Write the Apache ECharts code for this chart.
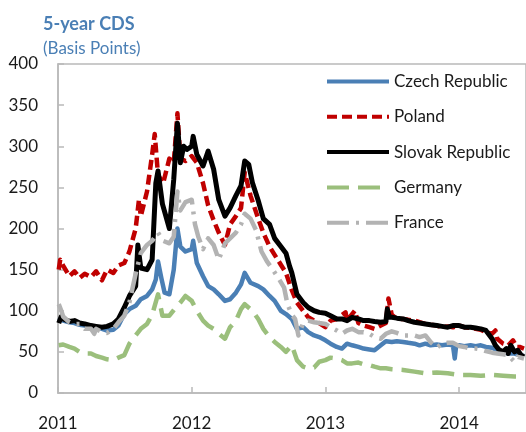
<!DOCTYPE html>
<html>
<head>
<meta charset="utf-8">
<script src="https://cdn.jsdelivr.net/npm/echarts@6/dist/echarts.min.js"></script>
<style>
  html, body { margin: 0; padding: 0; background: #fff; }
  #main { width: 526px; height: 432px; }
</style>
</head>
<body>
<div id="main"></div>
<script>
  // 5-year CDS, basis points — [date, value]
  const czech = [
    ['2011-01-03', 92], ['2011-01-15', 88], ['2011-02-01', 86], ['2011-02-15', 85], ['2011-03-01', 83], ['2011-03-15', 82],
    ['2011-04-01', 80], ['2011-04-15', 80], ['2011-05-01', 78], ['2011-05-15', 76], ['2011-06-01', 77], ['2011-06-15', 82],
    ['2011-07-01', 96], ['2011-07-15', 102], ['2011-08-01', 106], ['2011-08-15', 114], ['2011-09-01', 118], ['2011-09-15', 126],
    ['2011-09-25', 138], ['2011-10-01', 160], ['2011-10-10', 140], ['2011-10-19', 122], ['2011-11-01', 120], ['2011-11-13', 150],
    ['2011-11-23', 200], ['2011-12-01', 178], ['2011-12-15', 172], ['2012-01-01', 175], ['2012-01-05', 185], ['2012-01-15', 158],
    ['2012-02-01', 142], ['2012-02-15', 130], ['2012-03-01', 126], ['2012-03-15', 120], ['2012-04-01', 112], ['2012-04-15', 114],
    ['2012-05-01', 122], ['2012-05-15', 132], ['2012-05-25', 146], ['2012-06-10', 134], ['2012-07-01', 130], ['2012-07-15', 126],
    ['2012-08-01', 118], ['2012-08-15', 112], ['2012-09-01', 100], ['2012-09-15', 96], ['2012-10-01', 90], ['2012-10-15', 78],
    ['2012-11-01', 80], ['2012-11-15', 74], ['2012-12-01', 70], ['2012-12-15', 68], ['2013-01-01', 64], ['2013-01-15', 60],
    ['2013-02-01', 56], ['2013-02-15', 54], ['2013-03-01', 60], ['2013-03-15', 58], ['2013-04-01', 56], ['2013-04-15', 54],
    ['2013-05-01', 53], ['2013-05-15', 52], ['2013-06-01', 58], ['2013-06-15', 63], ['2013-07-01', 62], ['2013-07-15', 63],
    ['2013-08-01', 62], ['2013-08-15', 61], ['2013-09-01', 60], ['2013-09-15', 58], ['2013-10-01', 60], ['2013-10-15', 58],
    ['2013-11-01', 59], ['2013-11-15', 58], ['2013-12-01', 59], ['2013-12-15', 58], ['2013-12-20', 42], ['2013-12-24', 58],
    ['2014-01-01', 58], ['2014-01-15', 57], ['2014-02-01', 58], ['2014-02-15', 57], ['2014-03-01', 58], ['2014-03-15', 56],
    ['2014-04-01', 55], ['2014-04-15', 52], ['2014-05-01', 50], ['2014-05-15', 48], ['2014-06-01', 48], ['2014-06-15', 46],
    ['2014-06-27', 45]
  ]
  const poland = [
    ['2011-01-03', 150], ['2011-01-07', 162], ['2011-01-15', 155], ['2011-02-01', 142], ['2011-02-15', 148], ['2011-03-01', 140],
    ['2011-03-15', 145], ['2011-04-01', 141], ['2011-04-15', 148], ['2011-05-01', 137], ['2011-05-15', 150], ['2011-06-01', 146],
    ['2011-06-15', 155], ['2011-07-01', 158], ['2011-07-15', 172], ['2011-08-01', 200], ['2011-08-10', 235], ['2011-08-15', 215],
    ['2011-09-01', 245], ['2011-09-15', 290], ['2011-09-22', 315], ['2011-10-01', 265], ['2011-10-15', 255], ['2011-11-01', 285],
    ['2011-11-13', 280], ['2011-11-23', 340], ['2011-12-01', 285], ['2011-12-15', 282], ['2012-01-01', 288], ['2012-01-15', 280],
    ['2012-02-01', 255], ['2012-02-15', 228], ['2012-03-01', 210], ['2012-03-15', 195], ['2012-04-01', 180], ['2012-04-15', 205],
    ['2012-05-01', 215], ['2012-05-15', 225], ['2012-05-25', 268], ['2012-06-10', 240], ['2012-07-01', 212], ['2012-07-15', 195],
    ['2012-08-01', 178], ['2012-08-15', 168], ['2012-09-01', 156], ['2012-09-15', 146], ['2012-10-01', 125], ['2012-10-15', 110],
    ['2012-11-01', 100], ['2012-11-15', 92], ['2012-12-01', 88], ['2012-12-15', 85], ['2013-01-01', 80], ['2013-01-15', 88],
    ['2013-02-01', 90], ['2013-02-25', 98], ['2013-03-01', 88], ['2013-03-22', 100], ['2013-04-01', 85], ['2013-04-15', 82],
    ['2013-05-01', 80], ['2013-05-15', 78], ['2013-06-01', 82], ['2013-06-15', 85], ['2013-06-22', 115], ['2013-07-01', 95],
    ['2013-07-15', 90], ['2013-08-01', 90], ['2013-08-15', 89], ['2013-09-01', 88], ['2013-09-15', 86], ['2013-10-01', 84],
    ['2013-10-15', 83], ['2013-11-01', 82], ['2013-11-15', 80], ['2013-12-01', 81], ['2013-12-15', 80], ['2014-01-01', 82],
    ['2014-01-15', 80], ['2014-02-01', 79], ['2014-02-15', 78], ['2014-03-01', 77], ['2014-03-15', 74], ['2014-04-01', 72],
    ['2014-04-10', 76], ['2014-04-15', 66], ['2014-05-01', 60], ['2014-05-15', 58], ['2014-05-28', 64], ['2014-06-07', 56],
    ['2014-06-15', 56], ['2014-06-27', 54]
  ]
  const slovak = [
    ['2011-01-03', 85], ['2011-01-10', 93], ['2011-01-15', 90], ['2011-02-01', 87], ['2011-02-15', 88], ['2011-03-01', 85],
    ['2011-03-15', 84], ['2011-04-01', 82], ['2011-04-15', 81], ['2011-05-01', 80], ['2011-05-15', 81], ['2011-06-01', 84],
    ['2011-06-15', 90], ['2011-07-01', 104], ['2011-07-15', 118], ['2011-08-01', 130], ['2011-08-07', 180], ['2011-08-15', 152],
    ['2011-09-01', 150], ['2011-09-15', 162], ['2011-09-25', 255], ['2011-10-01', 270], ['2011-10-13', 230], ['2011-11-01', 200],
    ['2011-11-13', 260], ['2011-11-23', 328], ['2011-12-01', 280], ['2011-12-10', 300], ['2011-12-19', 296], ['2012-01-01', 300],
    ['2012-01-05', 312], ['2012-01-15', 290], ['2012-02-01', 276], ['2012-02-15', 294], ['2012-03-01', 272], ['2012-03-15', 235],
    ['2012-04-01', 215], ['2012-04-15', 225], ['2012-05-01', 240], ['2012-05-15', 252], ['2012-05-25', 282], ['2012-06-05', 278],
    ['2012-06-15', 256], ['2012-07-01', 234], ['2012-07-15', 212], ['2012-08-01', 205], ['2012-08-15', 188], ['2012-09-01', 178],
    ['2012-09-15', 170], ['2012-09-25', 154], ['2012-10-01', 146], ['2012-10-15', 120], ['2012-11-01', 110], ['2012-11-15', 104],
    ['2012-12-01', 100], ['2012-12-15', 98], ['2013-01-01', 97], ['2013-01-15', 94], ['2013-02-01', 90], ['2013-02-15', 90],
    ['2013-03-01', 88], ['2013-03-15', 92], ['2013-04-01', 90], ['2013-04-15', 88], ['2013-05-01', 88], ['2013-05-15', 87],
    ['2013-06-01', 86], ['2013-06-15', 87], ['2013-06-19', 102], ['2013-06-25', 92], ['2013-07-01', 92], ['2013-07-15', 91],
    ['2013-08-01', 90], ['2013-08-15', 88], ['2013-09-01', 86], ['2013-09-15', 85], ['2013-10-01', 84], ['2013-10-15', 83],
    ['2013-11-01', 82], ['2013-11-15', 81], ['2013-12-01', 80], ['2013-12-15', 82], ['2014-01-01', 82], ['2014-01-15', 80],
    ['2014-02-01', 80], ['2014-02-15', 79], ['2014-03-01', 78], ['2014-03-15', 76], ['2014-04-01', 66], ['2014-04-10', 58],
    ['2014-04-19', 53], ['2014-05-01', 50], ['2014-05-10', 54], ['2014-05-15', 48], ['2014-05-22', 58], ['2014-06-01', 50],
    ['2014-06-10', 52], ['2014-06-19', 46], ['2014-06-27', 44]
  ]
  const germany = [
    ['2011-01-03', 58], ['2011-01-15', 59], ['2011-02-01', 56], ['2011-02-15', 54], ['2011-03-01', 50], ['2011-03-15', 48],
    ['2011-04-01', 48], ['2011-04-15', 45], ['2011-05-01', 43], ['2011-05-15', 41], ['2011-06-01', 40], ['2011-06-15', 43],
    ['2011-07-01', 46], ['2011-07-15', 60], ['2011-08-01', 70], ['2011-08-15', 78], ['2011-09-01', 84], ['2011-09-15', 95],
    ['2011-10-01', 120], ['2011-10-13', 94], ['2011-11-01', 94], ['2011-11-15', 102], ['2011-12-01', 110], ['2011-12-15', 118],
    ['2012-01-01', 112], ['2012-01-15', 100], ['2012-02-01', 88], ['2012-02-15', 82], ['2012-03-01', 78], ['2012-03-15', 72],
    ['2012-04-01', 66], ['2012-04-15', 80], ['2012-05-01', 88], ['2012-05-15', 102], ['2012-05-25', 108], ['2012-06-15', 100],
    ['2012-07-01', 90], ['2012-07-15', 78], ['2012-08-01', 68], ['2012-08-15', 62], ['2012-09-01', 56], ['2012-09-15', 50],
    ['2012-10-01', 58], ['2012-10-15', 40], ['2012-11-01', 32], ['2012-11-15', 30], ['2012-12-01', 31], ['2012-12-15', 38],
    ['2013-01-01', 40], ['2013-01-15', 43], ['2013-02-01', 42], ['2013-02-15', 40], ['2013-03-01', 36], ['2013-03-15', 36],
    ['2013-04-01', 37], ['2013-04-15', 35], ['2013-05-01', 34], ['2013-05-15', 32], ['2013-06-01', 30], ['2013-06-15', 30],
    ['2013-07-01', 29], ['2013-08-01', 28], ['2013-09-01', 26], ['2013-10-01', 24], ['2013-11-01', 25], ['2013-12-01', 24],
    ['2014-01-01', 22], ['2014-02-01', 22], ['2014-03-01', 21], ['2014-04-01', 22], ['2014-05-01', 21], ['2014-06-01', 20],
    ['2014-06-27', 20]
  ]
  const france = [
    ['2011-01-03', 108], ['2011-01-10', 100], ['2011-01-15', 93], ['2011-02-01', 86], ['2011-02-15', 84], ['2011-03-01', 84],
    ['2011-03-15', 78], ['2011-04-01', 78], ['2011-04-10', 72], ['2011-04-15', 78], ['2011-05-01', 74], ['2011-05-15', 73],
    ['2011-06-01', 78], ['2011-06-15', 86], ['2011-07-01', 94], ['2011-07-15', 110], ['2011-08-01', 145], ['2011-08-15', 170],
    ['2011-09-01', 180], ['2011-09-15', 185], ['2011-10-01', 195], ['2011-10-15', 185], ['2011-11-01', 182], ['2011-11-13', 190],
    ['2011-11-23', 245], ['2011-12-01', 222], ['2011-12-15', 232], ['2012-01-01', 235], ['2012-01-10', 205], ['2012-01-19', 190],
    ['2012-02-01', 175], ['2012-02-15', 188], ['2012-03-01', 180], ['2012-03-15', 162], ['2012-04-01', 182], ['2012-04-15', 188],
    ['2012-05-01', 195], ['2012-05-15', 205], ['2012-05-25', 218], ['2012-06-10', 212], ['2012-06-25', 198], ['2012-07-10', 172],
    ['2012-07-25', 160], ['2012-08-10', 150], ['2012-08-25', 140], ['2012-09-10', 128], ['2012-09-19', 108], ['2012-10-01', 95],
    ['2012-10-10', 90], ['2012-10-19', 70], ['2012-11-01', 85], ['2012-11-15', 88], ['2012-12-01', 86], ['2012-12-15', 85],
    ['2013-01-01', 84], ['2013-01-15', 80], ['2013-02-01', 76], ['2013-02-15', 72], ['2013-03-01', 76], ['2013-03-15', 78],
    ['2013-04-01', 74], ['2013-04-15', 74], ['2013-05-01', 72], ['2013-05-15', 68], ['2013-06-01', 66], ['2013-06-15', 72],
    ['2013-07-01', 75], ['2013-07-15', 73], ['2013-08-01', 70], ['2013-08-15', 70], ['2013-09-01', 70], ['2013-09-15', 68],
    ['2013-10-01', 70], ['2013-10-15', 62], ['2013-11-01', 55], ['2013-11-15', 60], ['2013-12-01', 61], ['2013-12-15', 61],
    ['2014-01-01', 57], ['2014-01-15', 56], ['2014-02-01', 54], ['2014-02-15', 54], ['2014-03-01', 53], ['2014-03-15', 51],
    ['2014-04-01', 49], ['2014-04-15', 48], ['2014-05-01', 47], ['2014-05-15', 46], ['2014-06-01', 38], ['2014-06-10', 44],
    ['2014-06-27', 42]
  ]
  const seriesNames = ['Czech Republic', 'Poland', 'Slovak Republic', 'Germany', 'France']
  const yearTicks = [2011, 2012, 2013, 2014]

  const font = 'Lato, "Open Sans", sans-serif'
  const titleColor = '#4a7fb5'
  const axisColor = '#b9b9b9'

  // date string -> decimal year for the value axis
  const toYear = (s) => {
    const d = new Date(s + 'T00:00:00Z')
    const y = d.getUTCFullYear()
    const start = Date.UTC(y, 0, 1)
    const end = Date.UTC(y + 1, 0, 1)
    return y + (d.getTime() - start) / (end - start)
  }
  const toPoints = (arr) => arr.map((p) => [toYear(p[0]), p[1]])

  const styles = [
    { color: '#4a7fb5', type: 'solid', width: 4.5 },
    { color: '#c00000', type: [10, 5], width: 4.5 },
    { color: '#000000', type: 'solid', width: 5 },
    { color: '#9bbf7c', type: [22, 9], width: 4.5 },
    { color: '#b3b3b3', type: [22, 7, 3, 7], width: 4.5 },
  ]
  const datasets = [czech, poland, slovak, germany, france]

  const chart = echarts.init(document.getElementById('main'), null, { renderer: 'canvas' })
  const option = {
    animation: false,
    backgroundColor: '#fff',
    textStyle: { fontFamily: font },
    title: {
      text: '5-year CDS',
      subtext: '(Basis Points)',
      left: 38,
      top: 10,
      itemGap: 7,
      textStyle: { fontFamily: font, fontSize: 18, fontWeight: 'bold', color: titleColor },
      subtextStyle: { fontFamily: font, fontSize: 17, color: titleColor },
    },
    legend: {
      orient: 'vertical',
      left: 320,
      top: 68,
      itemWidth: 62,
      itemHeight: 16,
      itemGap: 18.3,
      itemStyle: { color: 'rgba(0,0,0,0)', borderWidth: 0, opacity: 0 },
      lineStyle: { width: 4 },
      textStyle: { fontFamily: font, fontSize: 17, color: '#1a1a1a' },
      data: seriesNames,
    },
    grid: {
      left: 58,
      top: 64,
      right: -2,
      bottom: 38,
      show: true,
      borderColor: axisColor,
      borderWidth: 1.5,
    },
    xAxis: {
      type: 'value',
      min: yearTicks[0],
      max: 2014.5,
      interval: 1,
      axisLine: { lineStyle: { color: axisColor, width: 1.5 } },
      axisTick: { inside: true, length: 6, lineStyle: { color: axisColor, width: 1.5 } },
      splitLine: { show: false },
      axisLabel: {
        margin: 22,
        fontSize: 17,
        color: '#1a1a1a',
        showMaxLabel: false,
        formatter: (v) => (yearTicks.includes(Math.round(v * 1000) / 1000) ? String(Math.round(v)) : ''),
      },
    },
    yAxis: {
      type: 'value',
      min: 0,
      max: 400,
      interval: 50,
      axisLine: { show: true, lineStyle: { color: axisColor, width: 1.5 } },
      axisTick: { show: true, inside: true, length: 6, lineStyle: { color: axisColor, width: 1.5 } },
      splitLine: { show: false },
      axisLabel: { margin: 20, fontSize: 17, color: '#1a1a1a' },
    },
    series: datasets.map((d, i) => ({
      name: seriesNames[i],
      type: 'line',
      symbol: 'none',
      showSymbol: false,
      data: toPoints(d),
      color: styles[i].color,
      lineStyle: { color: styles[i].color, width: styles[i].width, type: styles[i].type, cap: 'butt', join: 'round' },
    })),
  }
  chart.setOption(option)
</script>
</body>
</html>
